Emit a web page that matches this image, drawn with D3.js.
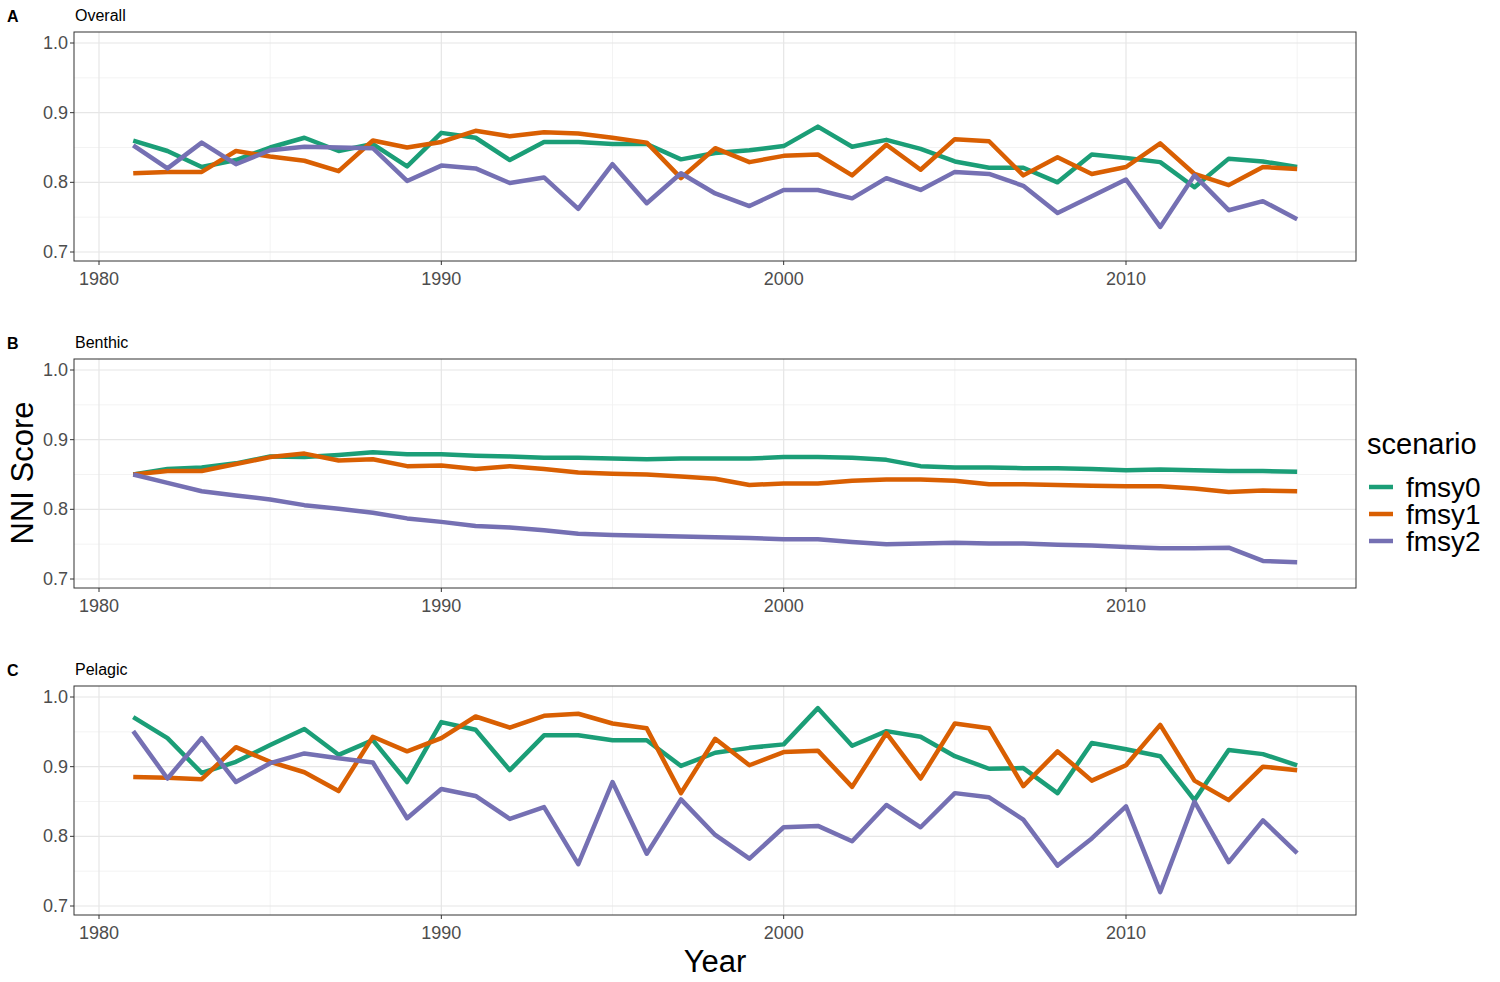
<!DOCTYPE html>
<html><head><meta charset="utf-8">
<script src="https://cdn.jsdelivr.net/npm/d3@7/dist/d3.min.js"></script>
<style>body{margin:0;background:#fff}svg{font-family:Arial,"Liberation Sans",sans-serif}</style>
</head><body><svg id="c" width="1500" height="982"></svg>
<script>
const years = d3.range(1981, 2016);
const scenarios = ["fmsy0","fmsy1","fmsy2"];
const colors = ["#1b9e77","#d95f02","#7570b3"];
const panelLabels = ["A","B","C"];
const panelTitles = ["Overall","Benthic","Pelagic"];
const yTicks = [0.7,0.8,0.9,1.0];
const xTicks = [1980,1990,2000,2010];

const overall0 = [0.860,0.845,0.822,0.832,0.850,0.864,0.845,0.855,0.823,0.871,0.864,0.832,0.858,0.858,0.855,0.855,0.833,0.842,0.846,0.852,0.880,0.851,0.861,0.848,0.830,0.821,0.821,0.800,0.840,0.835,0.829,0.793,0.834,0.830,0.822];
const overall1 = [0.813,0.815,0.815,0.845,0.837,0.831,0.816,0.860,0.850,0.858,0.874,0.866,0.872,0.870,0.864,0.857,0.806,0.849,0.829,0.838,0.840,0.810,0.854,0.818,0.862,0.859,0.810,0.836,0.812,0.822,0.856,0.812,0.796,0.822,0.819];
const overall2 = [0.853,0.820,0.857,0.826,0.846,0.851,0.850,0.849,0.802,0.824,0.820,0.799,0.807,0.762,0.826,0.770,0.813,0.784,0.766,0.789,0.789,0.777,0.806,0.789,0.815,0.812,0.795,0.756,0.780,0.804,0.736,0.810,0.760,0.773,0.747];
const benthic0 = [0.850,0.858,0.860,0.866,0.876,0.875,0.878,0.882,0.879,0.879,0.877,0.876,0.874,0.874,0.873,0.872,0.873,0.873,0.873,0.875,0.875,0.874,0.871,0.862,0.860,0.860,0.859,0.859,0.858,0.856,0.857,0.856,0.855,0.855,0.854];
const benthic1 = [0.850,0.855,0.855,0.865,0.875,0.880,0.870,0.872,0.862,0.863,0.858,0.862,0.858,0.853,0.851,0.850,0.847,0.844,0.835,0.837,0.837,0.841,0.843,0.843,0.841,0.836,0.836,0.835,0.834,0.833,0.833,0.830,0.825,0.827,0.826];
const benthic2 = [0.850,0.838,0.826,0.820,0.814,0.806,0.801,0.795,0.787,0.782,0.776,0.774,0.770,0.765,0.763,0.762,0.761,0.760,0.759,0.757,0.757,0.753,0.750,0.751,0.752,0.751,0.751,0.749,0.748,0.746,0.744,0.744,0.745,0.726,0.724];
const pelagic0 = [0.971,0.941,0.891,0.907,0.931,0.954,0.917,0.938,0.878,0.964,0.953,0.895,0.945,0.945,0.938,0.938,0.901,0.920,0.927,0.932,0.984,0.930,0.951,0.943,0.915,0.897,0.898,0.862,0.934,0.925,0.915,0.852,0.924,0.918,0.902];
const pelagic1 = [0.885,0.884,0.882,0.928,0.907,0.892,0.865,0.943,0.922,0.941,0.972,0.956,0.973,0.976,0.962,0.955,0.862,0.940,0.902,0.921,0.923,0.871,0.948,0.883,0.962,0.955,0.872,0.922,0.880,0.902,0.960,0.880,0.852,0.900,0.895];
const pelagic2 = [0.951,0.883,0.941,0.878,0.905,0.919,0.912,0.906,0.826,0.868,0.858,0.825,0.842,0.760,0.878,0.775,0.853,0.802,0.768,0.813,0.815,0.793,0.845,0.813,0.862,0.856,0.824,0.758,0.797,0.843,0.720,0.850,0.763,0.823,0.776];
const panelData = [[overall0,overall1,overall2],[benthic0,benthic1,benthic2],[pelagic0,pelagic1,pelagic2]];

const svg = d3.select("#c");
const L=74, R=1356, H=229;
const tops=[32,359,686];
const x = d3.scaleLinear().domain([1980,2010]).range([99,1126]);
panelData.forEach((series,i)=>{
  const t=tops[i];
  const y = d3.scaleLinear().domain([0.7,1.0]).range([t+220,t+11]);
  const g = svg.append("g");
  [0.75,0.85,0.95].forEach(v=>g.append("line").attr("x1",L).attr("x2",R).attr("y1",y(v)).attr("y2",y(v)).attr("stroke","#f0f0f0").attr("stroke-width",0.8));
  [1985,1995,2005,2015].forEach(v=>g.append("line").attr("x1",x(v)).attr("x2",x(v)).attr("y1",t).attr("y2",t+H).attr("stroke","#f0f0f0").attr("stroke-width",0.8));
  yTicks.forEach(v=>g.append("line").attr("x1",L).attr("x2",R).attr("y1",y(v)).attr("y2",y(v)).attr("stroke","#e6e6e6").attr("stroke-width",1.2));
  xTicks.forEach(v=>g.append("line").attr("x1",x(v)).attr("x2",x(v)).attr("y1",t).attr("y2",t+H).attr("stroke","#e6e6e6").attr("stroke-width",1.2));
  const line=d3.line().x((d,j)=>x(years[j])).y(d=>y(d));
  series.forEach((s,k)=>g.append("path").datum(s).attr("d",line).attr("fill","none").attr("stroke",colors[k]).attr("stroke-width",4.5).attr("stroke-linejoin","round"));
  g.append("rect").attr("x",L).attr("y",t).attr("width",R-L).attr("height",H).attr("fill","none").attr("stroke","#333").attr("stroke-width",1);
  yTicks.forEach(v=>{
    g.append("line").attr("x1",L-4).attr("x2",L).attr("y1",y(v)).attr("y2",y(v)).attr("stroke","#333");
    g.append("text").attr("x",L-6).attr("y",y(v)+6).attr("text-anchor","end").attr("font-size",18).attr("fill","#4d4d4d").text(v.toFixed(1));
  });
  xTicks.forEach(v=>{
    g.append("line").attr("x1",x(v)).attr("x2",x(v)).attr("y1",t+H).attr("y2",t+H+4).attr("stroke","#333");
    g.append("text").attr("x",x(v)).attr("y",t+H+24).attr("text-anchor","middle").attr("font-size",18).attr("fill","#4d4d4d").text(v);
  });
  g.append("text").attr("x",7).attr("y",t-10).attr("font-size",16).attr("font-weight","bold").text(panelLabels[i]);
  g.append("text").attr("x",75).attr("y",t-11).attr("font-size",16).text(panelTitles[i]);
});
svg.append("text").attr("transform","translate(33,473) rotate(-90)").attr("text-anchor","middle").attr("font-size",31).text("NNI Score");
svg.append("text").attr("x",715).attr("y",972).attr("text-anchor","middle").attr("font-size",31).text("Year");
svg.append("text").attr("x",1367).attr("y",454).attr("font-size",29).text("scenario");
scenarios.forEach((s,k)=>{
  const yy=487+k*27;
  svg.append("line").attr("x1",1369).attr("x2",1393).attr("y1",yy).attr("y2",yy).attr("stroke",colors[k]).attr("stroke-width",4.5);
  svg.append("text").attr("x",1406).attr("y",yy+10).attr("font-size",28).text(s);
});
</script></body></html>
